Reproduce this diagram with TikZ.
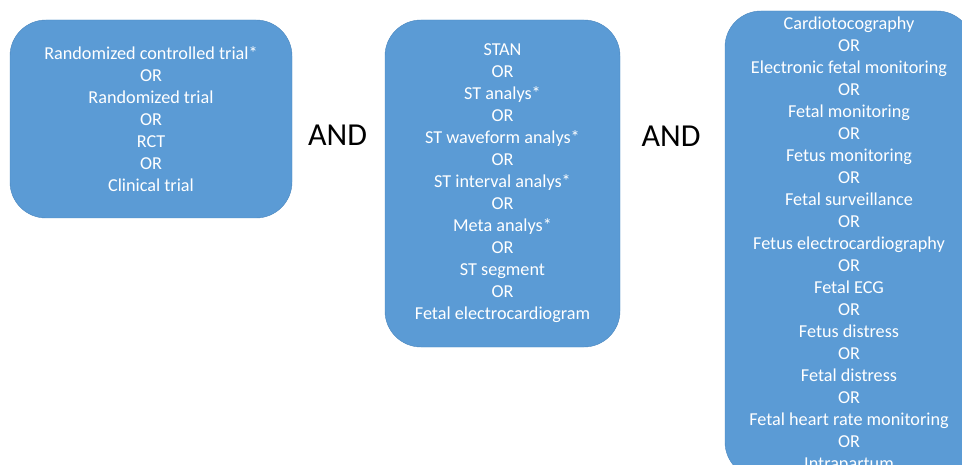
\documentclass[tikz,border=0pt]{standalone}
\usepackage{fontspec}
\setmainfont{Carlito}

\definecolor{boxblue}{HTML}{5B9BD5}
\definecolor{boxedge}{HTML}{4A86BE}

\begin{document}
\begin{tikzpicture}[x=1pt, y=-1pt,
    term/.style = {draw=boxedge, fill=boxblue, rounded corners=36pt, text=white,
                   align=center, inner sep=0pt,
                   font=\fontsize{18.2}{22}\selectfont},
    op/.style = {font=\fontsize{32}{36}\selectfont, text=black}]
    \useasboundingbox (0,0) rectangle (962,465);
    \clip (0,0) rectangle (962,465);
    \node[term, minimum width=282pt, minimum height=198pt] (1) at (151,119)
        {Randomized controlled trial*\\OR\\Randomized trial\\OR\\RCT\\OR\\Clinical trial};
    \node[term, minimum width=235pt, minimum height=327pt] (2) at (502.5,183.5)
        {STAN\\OR\\ST analys*\\OR\\ST waveform analys*\\OR\\ST interval analys*\\OR\\Meta analys*\\OR\\ST segment\\OR\\Fetal electrocardiogram};
    \node[term, minimum width=248pt, minimum height=467pt] (3) at (849,244.5)
        {Cardiotocography\\OR\\Electronic fetal monitoring\\OR\\Fetal monitoring\\OR\\Fetus monitoring\\OR\\Fetal surveillance\\OR\\Fetus electrocardiography\\OR\\Fetal ECG\\OR\\Fetus distress\\OR\\Fetal distress\\OR\\Fetal heart rate monitoring\\OR\\Intrapartum};
    \node[op] (and1) at (337.5,135.5) {AND};
    \node[op] (and2) at (671,136) {AND};
\end{tikzpicture}
\end{document}
